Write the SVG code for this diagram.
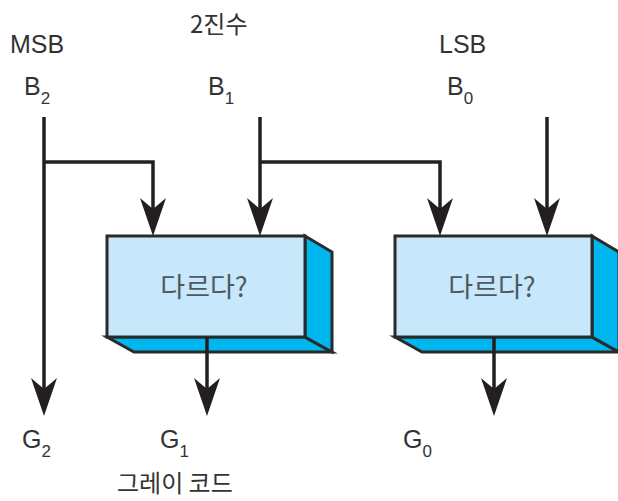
<svg xmlns="http://www.w3.org/2000/svg" width="618" height="501" viewBox="0 0 618 501">
<defs>
<style>
.lbl{font-family:"Liberation Sans",Arial,sans-serif;font-size:25px;fill:#333;}
.sub{font-size:17px;}
.kr{font-family:"Noto Sans CJK KR","Noto Sans",sans-serif;font-size:24px;fill:#333;}
.boxtxt{font-family:"Noto Sans CJK KR","Noto Sans",sans-serif;font-size:27px;fill:#4f5962;text-anchor:middle;}
.front{fill:#c6e8fa;stroke:#2a2a2a;stroke-width:3;stroke-linejoin:miter;}
.side{fill:#00b6ee;stroke:#2a2a2a;stroke-width:3;stroke-linejoin:miter;}
.wire{fill:none;stroke:#231f20;stroke-width:3.5;stroke-linejoin:miter;}
</style>
<marker id="arr" markerUnits="userSpaceOnUse" viewBox="0 0 38 26" markerWidth="38" markerHeight="26" refX="14" refY="13" orient="auto">
<path d="M0,0 L38,13 L0,26 L11,13 Z" fill="#231f20"/>
</marker>
</defs>

<g id="box1">
<polygon class="side" points="107,337 305,337 332,352 134,352"/>
<polygon class="side" points="305,236 332,252 332,352 305,337"/>
<rect class="front" x="107" y="236" width="198" height="101"/>
<text class="boxtxt" x="204" y="297">다르다?</text>
</g>

<g id="box2">
<polygon class="side" points="395,337 592,337 619,352 422,352"/>
<polygon class="side" points="592,236 619,252 619,352 592,337"/>
<rect class="front" x="395" y="236" width="197" height="101"/>
<text class="boxtxt" x="492" y="297">다르다?</text>
</g>

<g id="connectors">
<path class="wire" d="M44,117 L44,392" marker-end="url(#arr)"/>
<path class="wire" d="M44,162 L153,162 L153,212" marker-end="url(#arr)"/>
<path class="wire" d="M260,117 L260,212" marker-end="url(#arr)"/>
<path class="wire" d="M260,162 L440,162 L440,212" marker-end="url(#arr)"/>
<path class="wire" d="M547,117 L547,212" marker-end="url(#arr)"/>
<path class="wire" d="M207,337 L207,392" marker-end="url(#arr)"/>
<path class="wire" d="M494,337 L494,392" marker-end="url(#arr)"/>
</g>

<g id="labels">
<text class="kr" x="190" y="33">2진수</text>
<text class="lbl" x="10" y="53">MSB</text>
<text class="lbl" x="439" y="53">LSB</text>
<text class="lbl" x="24" y="95">B<tspan class="sub" dy="9">2</tspan></text>
<text class="lbl" x="208" y="95">B<tspan class="sub" dy="9">1</tspan></text>
<text class="lbl" x="447" y="95">B<tspan class="sub" dy="9">0</tspan></text>
<text class="lbl" x="22" y="448">G<tspan class="sub" dy="9">2</tspan></text>
<text class="lbl" x="160" y="448">G<tspan class="sub" dy="9">1</tspan></text>
<text class="lbl" x="403" y="448">G<tspan class="sub" dy="9">0</tspan></text>
<text class="kr" x="117" y="492">그레이 코드</text>
</g>
</svg>
